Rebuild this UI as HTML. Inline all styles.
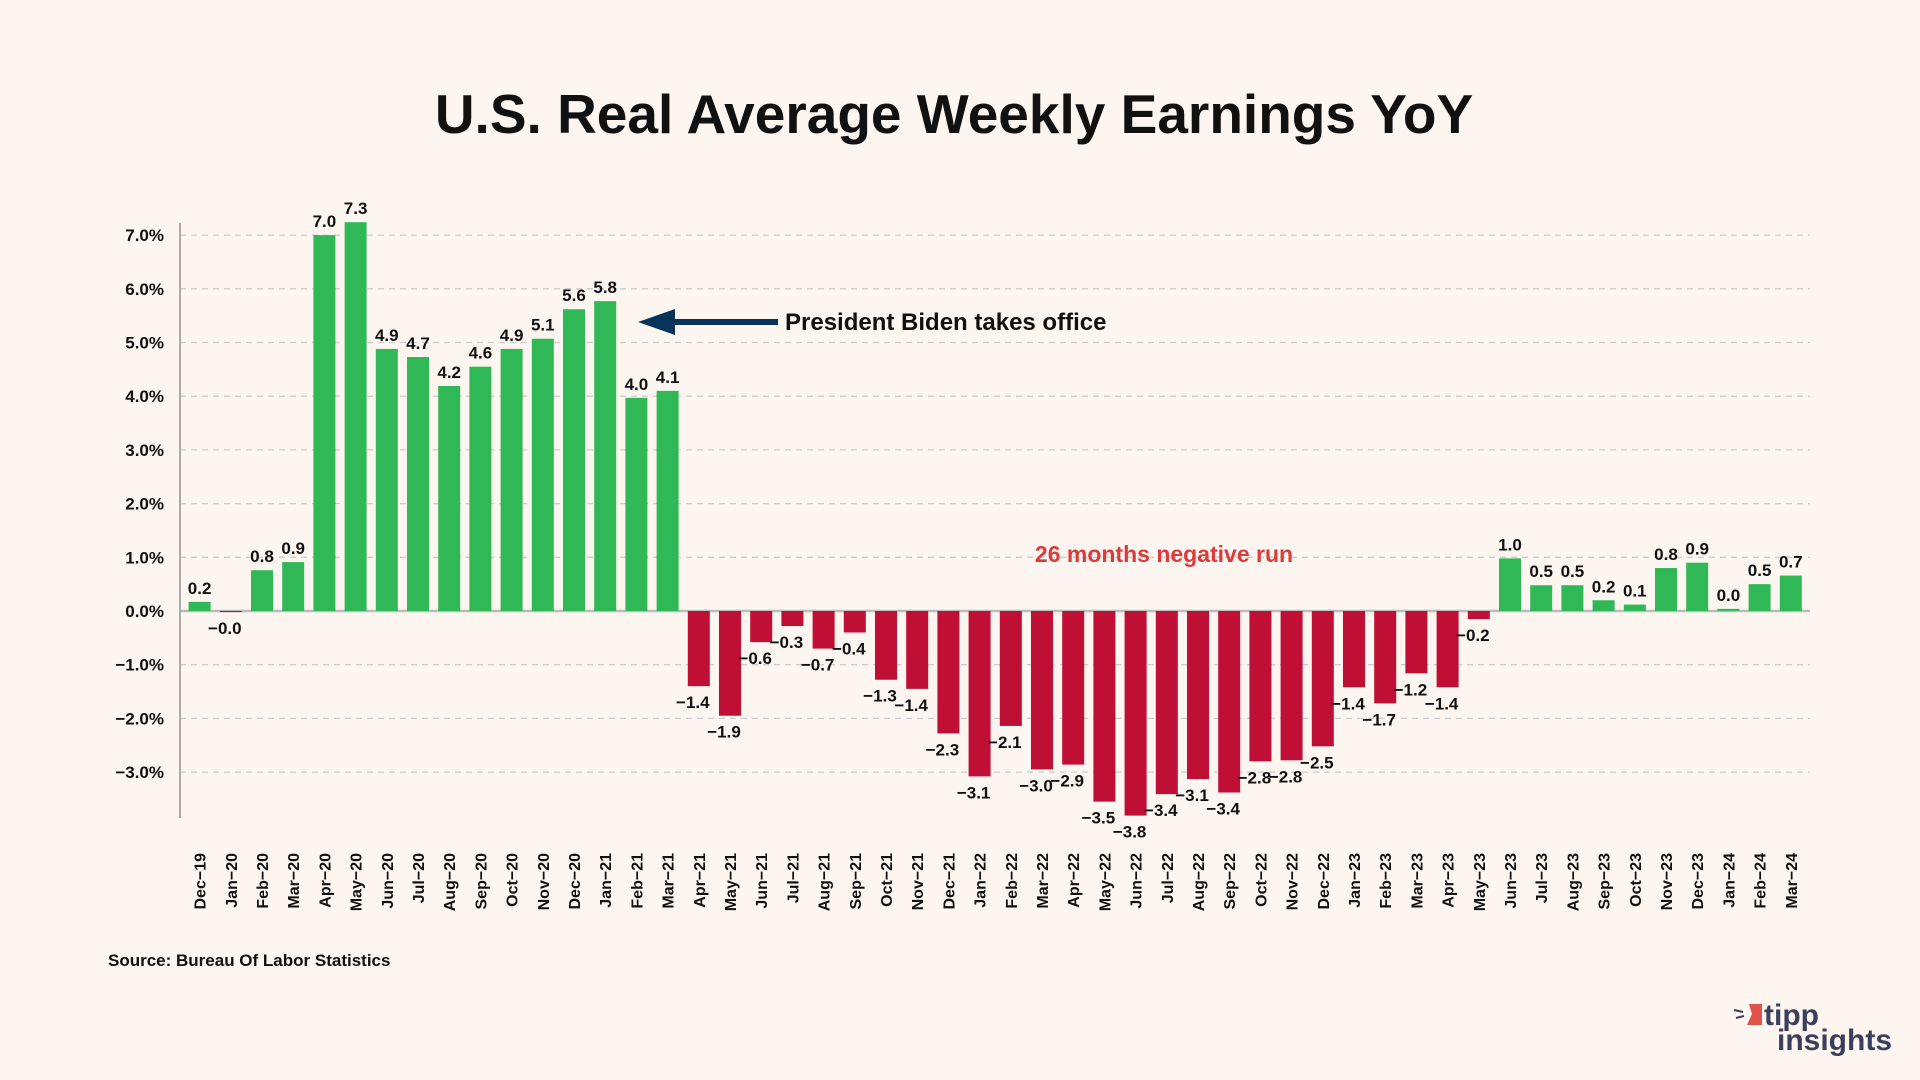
<!DOCTYPE html>
<html><head><meta charset="utf-8">
<style>
html,body{margin:0;padding:0;background:#fdf6f0;}
svg{display:block;font-family:"Liberation Sans",sans-serif;}
</style></head>
<body>
<svg id="chart" width="1920" height="1080" viewBox="0 0 1920 1080" xmlns="http://www.w3.org/2000/svg">
<rect x="0" y="0" width="1920" height="1080" fill="#fdf6f0"/>
<text x="954" y="133" text-anchor="middle" font-size="55" font-weight="bold" fill="#111">U.S. Real Average Weekly Earnings YoY</text>
<g id="grid"></g>
<g id="yticks"></g>
<g id="bars"></g>
<g id="vlabels"></g>
<g id="xlabels"></g>
<line x1="180" y1="223" x2="180" y2="818" stroke="#aaa" stroke-width="2"/>
<g>
<line x1="668" y1="322" x2="778" y2="322" stroke="#06335a" stroke-width="6"/>
<polygon points="638,322 675,309 675,335" fill="#06335a"/>
<text x="785" y="330" font-size="24" font-weight="bold" fill="#111">President Biden takes office</text>
</g>
<text x="1164" y="562" text-anchor="middle" font-size="23" font-weight="bold" fill="#dd3a3c">26 months negative run</text>
<text x="108" y="966" font-size="17" font-weight="bold" fill="#111">Source: Bureau Of Labor Statistics</text>
<g>
<polygon points="1749,1004 1762,1004 1762,1025 1747,1025 1752,1014" fill="#e0534a"/>
<line x1="1734" y1="1010" x2="1743" y2="1012" stroke="#3a3f5c" stroke-width="2"/>
<line x1="1736" y1="1018" x2="1744" y2="1016" stroke="#3a3f5c" stroke-width="2"/>
<text x="1764" y="1025" font-size="30" font-weight="bold" fill="#3a3f5c">tipp</text>
<text x="1777" y="1050" font-size="30" font-weight="bold" fill="#3a3f5c">insights</text>
</g>
</svg>
<script>
const categories = ["Dec-19","Jan-20","Feb-20","Mar-20","Apr-20","May-20","Jun-20","Jul-20","Aug-20","Sep-20","Oct-20","Nov-20","Dec-20","Jan-21","Feb-21","Mar-21","Apr-21","May-21","Jun-21","Jul-21","Aug-21","Sep-21","Oct-21","Nov-21","Dec-21","Jan-22","Feb-22","Mar-22","Apr-22","May-22","Jun-22","Jul-22","Aug-22","Sep-22","Oct-22","Nov-22","Dec-22","Jan-23","Feb-23","Mar-23","Apr-23","May-23","Jun-23","Jul-23","Aug-23","Sep-23","Oct-23","Nov-23","Dec-23","Jan-24","Feb-24","Mar-24"];
const values = [0.17,-0.02,0.76,0.91,7.0,7.24,4.88,4.73,4.19,4.55,4.88,5.07,5.62,5.77,3.97,4.1,-1.4,-1.95,-0.58,-0.28,-0.7,-0.4,-1.28,-1.45,-2.28,-3.08,-2.14,-2.95,-2.86,-3.55,-3.81,-3.41,-3.13,-3.38,-2.8,-2.78,-2.52,-1.42,-1.72,-1.16,-1.42,-0.15,0.98,0.48,0.48,0.2,0.12,0.8,0.9,0.04,0.5,0.66];
const valueLabels = ["0.2","−0.0","0.8","0.9","7.0","7.3","4.9","4.7","4.2","4.6","4.9","5.1","5.6","5.8","4.0","4.1","−1.4","−1.9","−0.6","−0.3","−0.7","−0.4","−1.3","−1.4","−2.3","−3.1","−2.1","−3.0","−2.9","−3.5","−3.8","−3.4","−3.1","−3.4","−2.8","−2.8","−2.5","−1.4","−1.7","−1.2","−1.4","−0.2","1.0","0.5","0.5","0.2","0.1","0.8","0.9","0.0","0.5","0.7"];
const yTicks = [-3,-2,-1,0,1,2,3,4,5,6,7];
const yTickLabels = ["−3.0%","−2.0%","−1.0%","0.0%","1.0%","2.0%","3.0%","4.0%","5.0%","6.0%","7.0%"];

const NS="http://www.w3.org/2000/svg";
const y0=611, perUnit=53.7, x0=199.6, step=31.2, bw=22;
function yScale(v){return y0 - v*perUnit;}
function xScale(i){return x0 + i*step;}
function mk(tag,attrs,parent){const e=document.createElementNS(NS,tag);for(const k in attrs)e.setAttribute(k,attrs[k]);parent.appendChild(e);return e;}

const grid=document.getElementById('grid'), yt=document.getElementById('yticks');
yTicks.forEach((t,i)=>{
  const g=mk('line',{x1:180,x2:1810,y1:yScale(t),y2:yScale(t),stroke:t===0?'#bbb':'#ccc','stroke-width':t===0?2.5:1.3,'stroke-dasharray':t===0?'none':'6,5'},grid);
  
  
  const tx=mk('text',{x:164,y:yScale(t)+6,'text-anchor':'end','font-size':17,'font-weight':'bold',fill:'#111'},yt);
  tx.textContent=yTickLabels[i];
  
  
});
const bars=document.getElementById('bars'), vl=document.getElementById('vlabels'), xl=document.getElementById('xlabels');
values.forEach((v,i)=>{
  const cx=xScale(i), yt0=Math.min(yScale(v),y0), h=Math.abs(yScale(v)-y0);
  const r=mk('rect',{x:cx-bw/2,y:yt0,width:bw,height:Math.max(h,0.5),fill:v>=0?'#2fb855':'#bf0f35'},bars);
  
  
  const ly = v>=0 ? yScale(v)-8 : yScale(v)+22;
  const lx = v>=0 ? cx : cx-6;
  const t=mk('text',{x:lx,y:ly,'text-anchor':'middle','font-size':17,'font-weight':'bold',fill:'#111'},vl);
  t.textContent=valueLabels[i];
  
  
  const c=mk('text',{x:0,y:0,'text-anchor':'end','font-size':16,'font-weight':'bold',fill:'#111',transform:`translate(${cx+6},853) rotate(-90)`},xl);
  c.textContent=categories[i].replace('-','−');
  
  
});
</script>
</body></html>
